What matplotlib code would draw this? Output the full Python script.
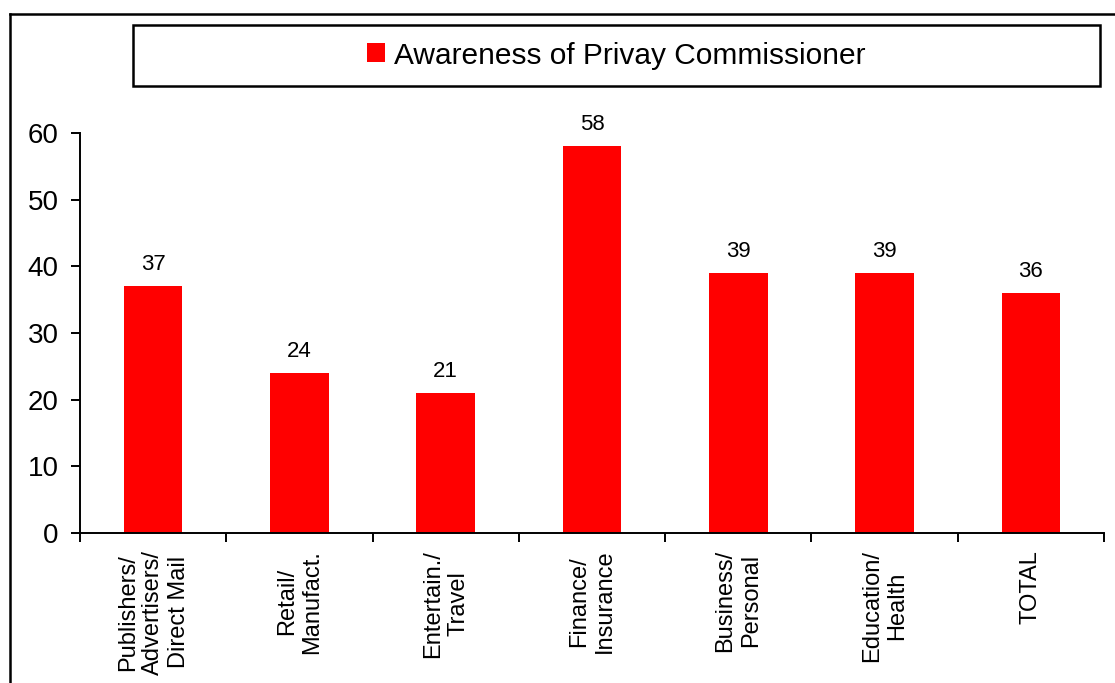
import numpy as np
import matplotlib
matplotlib.use("Agg")
import matplotlib.pyplot as plt
from matplotlib.patches import Rectangle
from matplotlib.lines import Line2D

plt.rcParams["font.family"] = ["Liberation Sans", "DejaVu Sans"]

categories = [
    "Publishers/\nAdvertisers/\nDirect Mail",
    "Retail/\nManufact.",
    "Entertain./\nTravel",
    "Finance/\nInsurance",
    "Business/\nPersonal",
    "Education/\nHealth",
    "TOTAL",
]
awareness = [37, 24, 21, 58, 39, 39, 36]
series_name = "Awareness of Privay Commissioner"

W, H = 1115, 683
fig = plt.figure(figsize=(W / 100, H / 100), dpi=100)

# outer frame (only left and top edges fall inside the canvas)
fig.add_artist(Line2D([10 / W, 10 / W], [0, 1 - 14 / H], transform=fig.transFigure,
                      color="black", lw=1.8))
fig.add_artist(Line2D([10 / W, 1], [1 - 14 / H, 1 - 14 / H], transform=fig.transFigure,
                      color="black", lw=1.8))

ax = fig.add_axes([80 / W, 1 - 533 / H, (1104 - 80) / W, (533 - 133) / H])
x = np.arange(len(categories))
bars = ax.bar(x, awareness, width=0.4, color="#ff0000", label=series_name)

for xi, v in zip(x, awareness):
    ax.annotate(str(v), (xi, v), xytext=(0, 11.5), textcoords="offset points",
                ha="center", va="baseline", fontsize=16)

ax.set_xlim(-0.5, len(categories) - 0.5)
ax.set_ylim(0, 60)
ax.set_yticks(range(0, 61, 10))
ax.tick_params(axis="y", labelsize=20, length=6.5, width=1.4, pad=9)

ax.set_xticks(x)
ax.set_xticklabels(categories, rotation=90, ha="center", va="top",
                   multialignment="center", fontsize=17)
ax.set_xticks(np.arange(len(categories) + 1) - 0.5, minor=True)
ax.tick_params(axis="x", which="major", length=0, pad=12)
ax.tick_params(axis="x", which="minor", length=6.5, width=1.4)

for side in ["top", "right"]:
    ax.spines[side].set_visible(False)
for side in ["left", "bottom"]:
    ax.spines[side].set_linewidth(1.4)

# legend box
fig.add_artist(Rectangle((133 / W, 1 - 86 / H), (1100 - 133) / W, (86 - 25) / H,
                         transform=fig.transFigure, fill=False, ec="black", lw=1.8))
fig.legend(handles=[bars], labels=[series_name], loc="center",
           bbox_to_anchor=((133 + 1100) / 2 / W, 1 - (25 + 86) / 2 / H),
           frameon=False, fontsize=21.5, handlelength=0.6, handleheight=0.6,
           handletextpad=0.3, borderpad=0)

fig.savefig("out.png", dpi=100)
